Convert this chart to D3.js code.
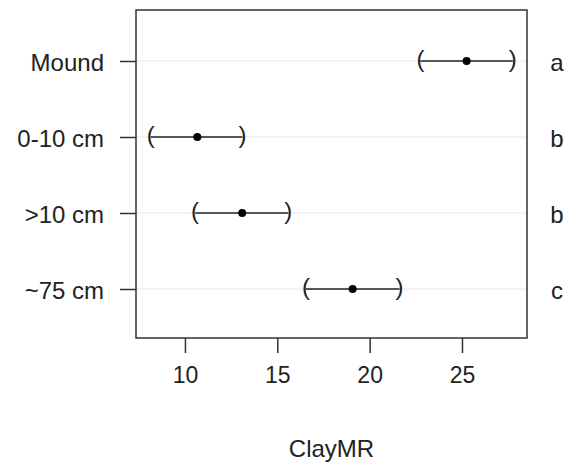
<!DOCTYPE html>
<html>
<head>
<meta charset="utf-8">
<script src="https://cdn.jsdelivr.net/npm/d3@7"></script>
<style>
  body { margin: 0; background: #fff; }
  text { font-family: "Liberation Sans", Arial, sans-serif; fill: #222; }
</style>
</head>
<body>
<div id="chart"></div>
<script>
// Group labels, means, confidence limits and significance letters
const groups = ["Mound", "0-10 cm", ">10 cm", "~75 cm"];
const means = [25.25, 10.67, 13.10, 19.08];
const lower = [22.75, 8.15, 10.55, 16.55];
const upper = [27.75, 13.12, 15.6, 21.62];
const letters = ["a", "b", "b", "c"];
const xTicks = [10, 15, 20, 25];

const width = 565, height = 464;
const margin = { top: 10, right: 38, bottom: 126, left: 136 };
const plotW = width - margin.left - margin.right;
const plotH = height - margin.top - margin.bottom;

const svg = d3.select("#chart")
    .append("svg")
    .attr("width", width)
    .attr("height", height);

const g = svg.append("g")
    .attr("transform", `translate(${margin.left},${margin.top})`);

const x = d3.scaleLinear()
    .domain([7.35, 28.52])
    .range([0, plotW]);

const y = d3.scalePoint()
    .domain(groups)
    .range([51, 279]);

// Light horizontal guide lines
g.selectAll(".grid")
    .data(groups)
    .enter().append("line")
    .attr("x1", 0)
    .attr("x2", plotW)
    .attr("y1", d => y(d))
    .attr("y2", d => y(d))
    .style("stroke", "#e8e8e8")
    .style("stroke-width", 1);

// Interval lines
g.selectAll(".ci")
    .data(groups)
    .enter().append("line")
    .attr("x1", (d, i) => x(lower[i]))
    .attr("x2", (d, i) => x(upper[i]))
    .attr("y1", d => y(d))
    .attr("y2", d => y(d))
    .style("stroke", "#222")
    .style("stroke-width", 1.5);

// Brackets at the ends
g.selectAll(".lb")
    .data(groups)
    .enter().append("text")
    .attr("x", (d, i) => x(lower[i]))
    .attr("y", d => y(d) + 6)
    .attr("text-anchor", "middle")
    .style("font-size", "24px")
    .text("(");

g.selectAll(".rb")
    .data(groups)
    .enter().append("text")
    .attr("x", (d, i) => x(upper[i]))
    .attr("y", d => y(d) + 6)
    .attr("text-anchor", "middle")
    .style("font-size", "24px")
    .text(")");

// Means
g.selectAll(".pt")
    .data(groups)
    .enter().append("circle")
    .attr("cx", (d, i) => x(means[i]))
    .attr("cy", d => y(d))
    .attr("r", 4)
    .style("fill", "#000");

// Plot frame
g.append("rect")
    .attr("width", plotW)
    .attr("height", plotH)
    .style("fill", "none")
    .style("stroke", "#333")
    .style("stroke-width", 1.5);

// X axis
const xAxis = g.append("g")
    .attr("transform", `translate(0,${plotH})`)
    .call(d3.axisBottom(x).tickValues(xTicks).tickSize(15).tickPadding(14));
xAxis.select(".domain").remove();
xAxis.selectAll("line").style("stroke", "#333").style("stroke-width", 1.5);
xAxis.selectAll("text")
    .style("font-size", "23px")
    .style("font-family", "'Liberation Sans', Arial, sans-serif")
    .style("fill", "#222");

// Y axis
const yAxis = g.append("g")
    .call(d3.axisLeft(y).tickSize(16).tickPadding(16));
yAxis.select(".domain").remove();
yAxis.selectAll("line").style("stroke", "#333").style("stroke-width", 1.5);
yAxis.selectAll("text")
    .attr("dy", "0.4em")
    .style("font-size", "24px")
    .style("font-family", "'Liberation Sans', Arial, sans-serif")
    .style("fill", "#222");

// Significance letters
g.selectAll(".letter")
    .data(groups)
    .enter().append("text")
    .attr("x", plotW + 30)
    .attr("y", d => y(d))
    .attr("dy", "0.4em")
    .attr("text-anchor", "middle")
    .style("font-size", "24px")
    .text((d, i) => letters[i]);

// X axis title
svg.append("text")
    .attr("x", margin.left + plotW / 2)
    .attr("y", 457)
    .attr("text-anchor", "middle")
    .style("font-size", "24px")
    .text("ClayMR");
</script>
</body>
</html>
